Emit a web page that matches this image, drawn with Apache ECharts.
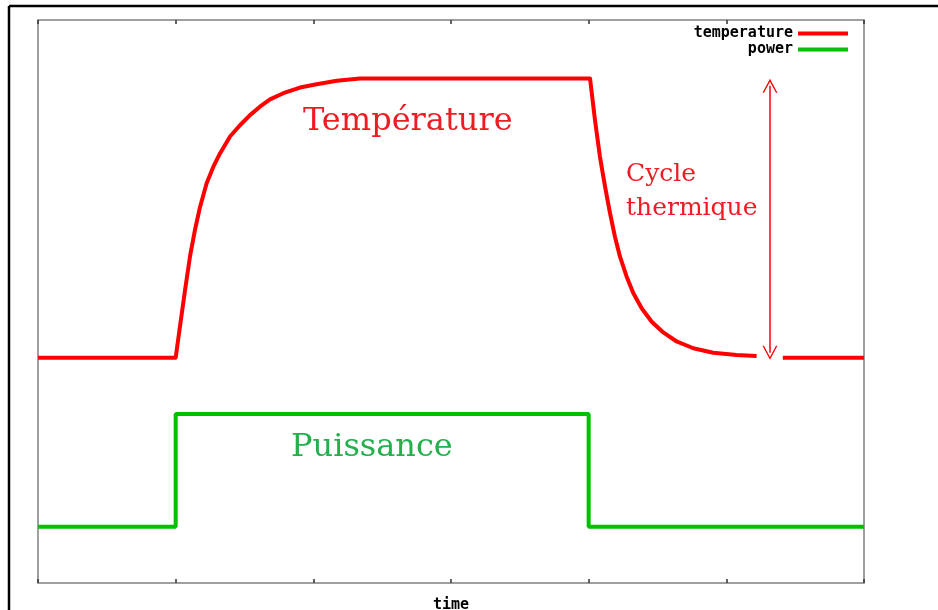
<!DOCTYPE html>
<html>
<head>
<meta charset="utf-8">
<script src="https://cdn.jsdelivr.net/npm/echarts@6/dist/echarts.min.js"></script>
<style>
  html, body { margin: 0; padding: 0; background: #fff; }
  #chart { width: 938px; height: 610px; }
</style>
</head>
<body>
<div id="chart"></div>
<script>
// time in arbitrary units (6 tick intervals), levels in arbitrary units
const tempX = [0, 1.0, 1.031, 1.068, 1.104, 1.140, 1.177, 1.225, 1.273, 1.322, 1.395, 1.467, 1.540,
  1.612, 1.685, 1.782, 1.903, 2.024, 2.170, 2.339, 4.010,
  4.046, 4.082, 4.119, 4.155, 4.191, 4.227, 4.276, 4.324, 4.385, 4.458, 4.542, 4.639, 4.760,
  4.905, 5.075, 5.220, 5.30, 5.41, 6.0];
const tempY = [4.0, 4.0, 4.55, 5.20, 5.80, 6.27, 6.68, 7.10, 7.39, 7.63, 7.93, 8.13, 8.31,
  8.46, 8.59, 8.70, 8.80, 8.86, 8.92, 8.96, 8.96,
  8.22, 7.57, 7.04, 6.57, 6.15, 5.80, 5.44, 5.15, 4.88, 4.64, 4.45, 4.29, 4.17,
  4.09, 4.05, 4.03, null, 4.0, 4.0];

const powerX = [0, 1, 1, 4, 4, 6];
const powerY = [1, 1, 3, 3, 1, 1];

const xTicks = [0, 1, 2, 3, 4, 5, 6];
const arrowX = 5.317;
const arrowFrom = 8.83;
const arrowTo = 4.09;

const zip = (xs, ys) => xs.map((x, i) => [x, ys[i]]);

const chart = echarts.init(document.getElementById('chart'));

const serif = '"DejaVu Serif", serif';
const mono = '"DejaVu Sans Mono", monospace';

const xBase = {
  type: 'value',
  min: xTicks[0],
  max: xTicks[xTicks.length - 1],
  interval: 1,
  axisLine: { show: false },
  axisTick: { show: true, inside: true, length: 4, lineStyle: { color: '#333', width: 1.5 } },
  axisLabel: { show: false },
  splitLine: { show: false }
};

const option = {
  animation: false,
  backgroundColor: '#fff',
  grid: {
    left: 38,
    right: 74,
    top: 20,
    bottom: 27,
    containLabel: false,
    outerBoundsMode: 'none',
    show: true,
    borderColor: '#808080',
    borderWidth: 1.5
  },
  legend: {
    orient: 'vertical',
    right: 85,
    top: 21,
    align: 'right',
    itemWidth: 50,
    itemHeight: 4,
    itemGap: 1,
    icon: 'rect',
    textStyle: { fontFamily: mono, fontWeight: 'bold', fontSize: 15, color: '#000' },
    data: ['temperature', 'power']
  },
  xAxis: [
    Object.assign({}, xBase, {
      position: 'bottom',
      name: 'time',
      nameLocation: 'middle',
      nameGap: 15,
      nameTextStyle: { fontFamily: mono, fontWeight: 'bold', fontSize: 15, color: '#000' }
    }),
    Object.assign({}, xBase, { position: 'top' })
  ],
  yAxis: {
    type: 'value',
    min: 0,
    max: 10,
    axisLine: { show: false },
    axisTick: { show: false },
    axisLabel: { show: false },
    splitLine: { show: false }
  },
  series: [
    {
      name: 'temperature',
      type: 'line',
      data: zip(tempX, tempY),
      showSymbol: false,
      connectNulls: false,
      color: '#ff0000',
      lineStyle: { width: 4, color: '#ff0000', join: 'round' },
      markLine: {
        silent: true,
        symbol: ['path://M0,14 L7,0 L14,14 L12.6,14 L7,2.8 L1.4,14 Z', 'path://M0,14 L7,0 L14,14 L12.6,14 L7,2.8 L1.4,14 Z'],
        symbolSize: [15, 14],
        label: { show: false },
        lineStyle: { color: '#ff0000', width: 1.5, type: 'solid' },
        data: [[{ coord: [arrowX, arrowFrom] }, { coord: [arrowX, arrowTo] }]]
      }
    },
    {
      name: 'power',
      type: 'line',
      data: zip(powerX, powerY),
      showSymbol: false,
      color: '#00c000',
      lineStyle: { width: 4, color: '#00c000' }
    }
  ],
  graphic: [
    { type: 'line', shape: { x1: 9, y1: 6, x2: 938, y2: 6 }, style: { stroke: '#000', lineWidth: 2.5 } },
    { type: 'line', shape: { x1: 9, y1: 6, x2: 9, y2: 610 }, style: { stroke: '#000', lineWidth: 2.5 } },
    {
      type: 'text', left: 303, top: 106,
      style: { text: 'Température', font: '32px ' + serif, fill: '#ee1c24' }
    },
    {
      type: 'text', left: 626, top: 157,
      style: { text: 'Cycle\nthermique', font: '25px ' + serif, fill: '#ee1c24', lineHeight: 34 }
    },
    {
      type: 'text', left: 291, top: 432,
      style: { text: 'Puissance', font: '32px ' + serif, fill: '#22b14c' }
    }
  ]
};

chart.setOption(option);
</script>
</body>
</html>
